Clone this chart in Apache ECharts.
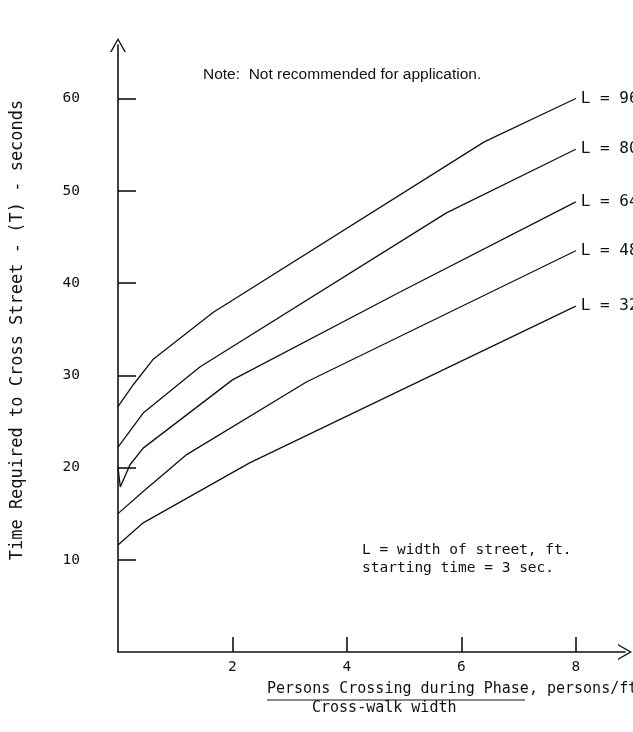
<!DOCTYPE html>
<html>
<head>
<meta charset="utf-8">
<script src="https://cdn.jsdelivr.net/npm/echarts@6/dist/echarts.min.js"></script>
<style>
html,body{margin:0;padding:0;background:#fff;}
#chart{width:633px;height:732px;}
</style>
</head>
<body>
<div id="chart"></div>
<script>
// street widths (ft) and the curves
var streetWidths = [96, 80, 64, 48, 32];
var persons96 = [0, 0.27, 0.61, 1.66, 6.4, 8];
var time96 = [26.6, 29.0, 31.7, 36.8, 55.3, 60.0];
var persons80 = [0, 0.44, 1.43, 5.74, 8];
var time80 = [22.2, 25.9, 30.9, 47.6, 54.5];
var persons64 = [0, 0.04, 0.21, 0.44, 2.0, 4.92, 8];
var time64 = [20.0, 17.9, 20.3, 22.1, 29.5, 39.0, 48.8];
var persons48 = [0, 0.44, 1.2, 3.3, 8];
var time48 = [15.0, 17.4, 21.4, 29.3, 43.5];
var persons32 = [0, 0.44, 2.3, 8];
var time32 = [11.6, 14.0, 20.5, 37.5];
var xTicks = [2, 4, 6, 8];
var yTicks = [10, 20, 30, 40, 50, 60];

var MONO = '"DejaVu Sans Mono", "Liberation Mono", monospace';
var INK = '#111';
var arrow = 'path://M0,14 L8,0 L16,14 L14.4,14 L8,2.6 L1.6,14 Z';

function pairs(xs, ys){
	var out = [];
	for (var i = 0; i < xs.length; i++) out.push([xs[i], ys[i]]);
	return out;
}

var curves = [
	pairs(persons96, time96),
	pairs(persons80, time80),
	pairs(persons64, time64),
	pairs(persons48, time48),
	pairs(persons32, time32)
];

var series = [];
for (var i = 0; i < streetWidths.length; i++) {
	series.push({
		name: 'L = ' + streetWidths[i],
		type: 'line',
		data: curves[i],
		symbol: 'none',
		silent: true,
		lineStyle: {color: INK, width: 1.3},
		endLabel: {
			show: true,
			formatter: 'L = ' + streetWidths[i],
			color: INK,
			fontFamily: MONO,
			fontSize: 16,
			distance: 5
		}
	});
}

var option = {
	animation: false,
	grid: {left: 118, top: 45, right: 8, bottom: 80, containLabel: false},
	xAxis: {
		type: 'value',
		min: 0,
		max: 8.86,
		axisLine: {lineStyle: {color: INK, width: 1.6}, symbol: ['none', arrow], symbolSize: [16, 14]},
		axisTick: {show: true, inside: true, length: 15, customValues: xTicks, lineStyle: {color: INK, width: 1.6}},
		axisLabel: {customValues: xTicks, margin: 8, color: INK, fontFamily: MONO, fontSize: 14.5},
		splitLine: {show: false}
	},
	yAxis: {
		type: 'value',
		min: 0,
		max: 65.8,
		axisLine: {show: true, lineStyle: {color: INK, width: 1.6}, symbol: ['none', arrow], symbolSize: [16, 14]},
		axisTick: {show: true, inside: true, length: 18, customValues: yTicks, lineStyle: {color: INK, width: 1.6}},
		axisLabel: {customValues: yTicks, margin: 38, color: INK, fontFamily: MONO, fontSize: 14.5},
		splitLine: {show: false}
	},
	graphic: [
		{type: 'text', left: 203, top: 67, style: {text: 'Note:  Not recommended for application.', fill: INK, font: '15.5px "Liberation Sans", Arial, sans-serif'}},
		{type: 'text', left: 362, top: 543, style: {text: 'L = width of street, ft.', fill: INK, font: '14.5px ' + MONO}},
		{type: 'text', left: 362, top: 561, style: {text: 'starting time = 3 sec.', fill: INK, font: '14.5px ' + MONO}},
		{type: 'text', left: 267, top: 682, style: {text: 'Persons Crossing during Phase, persons/ft', fill: INK, font: '15px ' + MONO}},
		{type: 'line', shape: {x1: 267, y1: 700, x2: 525, y2: 700}, style: {stroke: INK, lineWidth: 1}},
		{type: 'text', left: 312, top: 701, style: {text: 'Cross-walk width', fill: INK, font: '15px ' + MONO}},
		{type: 'text', x: 18, y: 330, rotation: Math.PI / 2, style: {text: 'Time Required to Cross Street - (T) - seconds', fill: INK, font: '17px ' + MONO, align: 'center', verticalAlign: 'middle'}}
	],
	series: series
};

var myChart = echarts.init(document.getElementById('chart'));
myChart.setOption(option);
</script>
</body>
</html>
